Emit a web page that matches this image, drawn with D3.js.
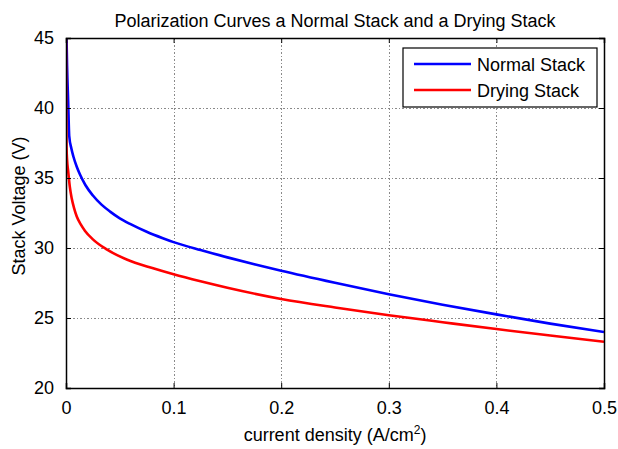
<!DOCTYPE html>
<html>
<head>
<meta charset="utf-8">
<script src="https://cdn.jsdelivr.net/npm/d3@7"></script>
<style>
  html, body { margin: 0; padding: 0; background: #fff; }
  svg { display: block; font-family: "Liberation Sans", Arial, sans-serif; }
</style>
</head>
<body>
<svg id="chart" width="618" height="449"></svg>
<script>
// ---- data ----
const titleText = "Polarization Curves a Normal Stack and a Drying Stack";
const xLabel = "current density (A/cm";
const yLabel = "Stack Voltage (V)";
const seriesNames = ["Normal Stack", "Drying Stack"];
const xTicks = [0, 0.1, 0.2, 0.3, 0.4, 0.5];
const yTicks = [20, 25, 30, 35, 40, 45];

const normalX = [0.0005, 0.001, 0.002, 0.003, 0.005, 0.007, 0.01, 0.013, 0.018, 0.025, 0.033, 0.041, 0.05, 0.06, 0.075, 0.09, 0.1, 0.125, 0.15, 0.175, 0.2, 0.25, 0.3, 0.35, 0.4, 0.45, 0.5];
const normalV = [45, 43, 40.5, 38.0, 37.1, 36.5, 35.8, 35.25, 34.5, 33.75, 33.1, 32.6, 32.12, 31.7, 31.16, 30.7, 30.42, 29.85, 29.33, 28.84, 28.38, 27.52, 26.7, 25.95, 25.26, 24.6, 24.0];

const dryingX = [0, 0.0002, 0.0005, 0.001, 0.002, 0.0035, 0.0053, 0.0075, 0.01, 0.014, 0.0177, 0.025, 0.0378, 0.0564, 0.081, 0.1, 0.125, 0.15, 0.2, 0.25, 0.3, 0.35, 0.4, 0.45, 0.5];
const dryingV = [45, 40, 37.2, 36.3, 35.5, 34.4, 33.55, 32.85, 32.25, 31.65, 31.22, 30.62, 29.9, 29.18, 28.55, 28.12, 27.62, 27.16, 26.36, 25.75, 25.2, 24.7, 24.21, 23.75, 23.3];

const colors = ["#0000ff", "#ff0000"];

// ---- layout ----
const L = 66, R = 604, T = 38, B = 388;
const svg = d3.select("#chart");
const x = d3.scaleLinear().domain([0, 0.5]).range([L, R]);
const y = d3.scaleLinear().domain([20, 45]).range([B, T]);

const fs = 18;

// grid
const grid = svg.append("g").attr("stroke", "#8a8a8a").attr("stroke-width", 1)
  .attr("stroke-dasharray", "1.5,2").attr("shape-rendering", "crispEdges");
xTicks.slice(1, -1).forEach(t => grid.append("line")
  .attr("x1", Math.round(x(t)) + 0.5).attr("x2", Math.round(x(t)) + 0.5).attr("y1", T).attr("y2", B));
yTicks.slice(1, -1).forEach(t => grid.append("line")
  .attr("y1", Math.round(y(t)) + 0.5).attr("y2", Math.round(y(t)) + 0.5).attr("x1", L).attr("x2", R));

// curves
svg.append("clipPath").attr("id", "clip").append("rect")
  .attr("x", L).attr("y", T).attr("width", R - L).attr("height", B - T);
const line = d3.line().x(d => x(d[0])).y(d => y(d[1])).curve(d3.curveMonotoneX);
const normalData = normalX.map((v, i) => [v, normalV[i]]);
const dryingData = dryingX.map((v, i) => [v, dryingV[i]]);
const curves = svg.append("g").attr("clip-path", "url(#clip)");
curves.append("path").datum(normalData).attr("d", line)
  .attr("fill", "none").attr("stroke", colors[0]).attr("stroke-width", 2.6);
curves.append("path").datum(dryingData).attr("d", line)
  .attr("fill", "none").attr("stroke", colors[1]).attr("stroke-width", 2.6);

// axes (ticks inside, on all four sides)
const tl = 5;
const axB = svg.append("g").attr("transform", `translate(0,${B})`)
  .call(d3.axisBottom(x).tickValues(xTicks).tickSize(-tl).tickPadding(tl + 8).tickFormat(d3.format("")));
const axT = svg.append("g").attr("transform", `translate(0,${T})`)
  .call(d3.axisTop(x).tickValues(xTicks).tickSize(-tl).tickFormat(""));
const axL = svg.append("g").attr("transform", `translate(${L},0)`)
  .call(d3.axisLeft(y).tickValues(yTicks).tickSize(-tl).tickPadding(tl + 7));
const axR = svg.append("g").attr("transform", `translate(${R},0)`)
  .call(d3.axisRight(y).tickValues(yTicks).tickSize(-tl).tickFormat(""));
[axB, axT, axL, axR].forEach(a => {
  a.select(".domain").attr("stroke", "#000").attr("stroke-width", 1.5);
  a.selectAll(".tick line").attr("stroke", "#000");
  a.selectAll("text").attr("font-size", fs).attr("font-family", "Liberation Sans, Arial, sans-serif").attr("fill", "#000");
});

// title
svg.append("text").attr("x", (L + R) / 2).attr("y", 27).attr("text-anchor", "middle")
  .attr("font-size", fs).text(titleText);

// x label with superscript
const xl = svg.append("text").attr("x", (L + R) / 2).attr("y", 441).attr("text-anchor", "middle")
  .attr("font-size", fs);
xl.append("tspan").text(xLabel);
xl.append("tspan").attr("dy", -7).attr("font-size", 12).text("2");
xl.append("tspan").attr("dy", 7).text(")");

// y label
svg.append("text").attr("transform", `translate(25,206) rotate(-90)`)
  .attr("text-anchor", "middle").attr("font-size", fs).text(yLabel);

// legend
const lg = svg.append("g");
lg.append("rect").attr("x", 403).attr("y", 48).attr("width", 194).attr("height", 59)
  .attr("fill", "#fff").attr("stroke", "#000").attr("stroke-width", 1.2);
seriesNames.forEach((n, i) => {
  const yy = 64 + i * 26;
  lg.append("line").attr("x1", 414).attr("x2", 471).attr("y1", yy).attr("y2", yy)
    .attr("stroke", colors[i]).attr("stroke-width", 2.6);
  lg.append("text").attr("x", 477).attr("y", yy + 6.5).attr("font-size", fs).text(n);
});
</script>
</body>
</html>
